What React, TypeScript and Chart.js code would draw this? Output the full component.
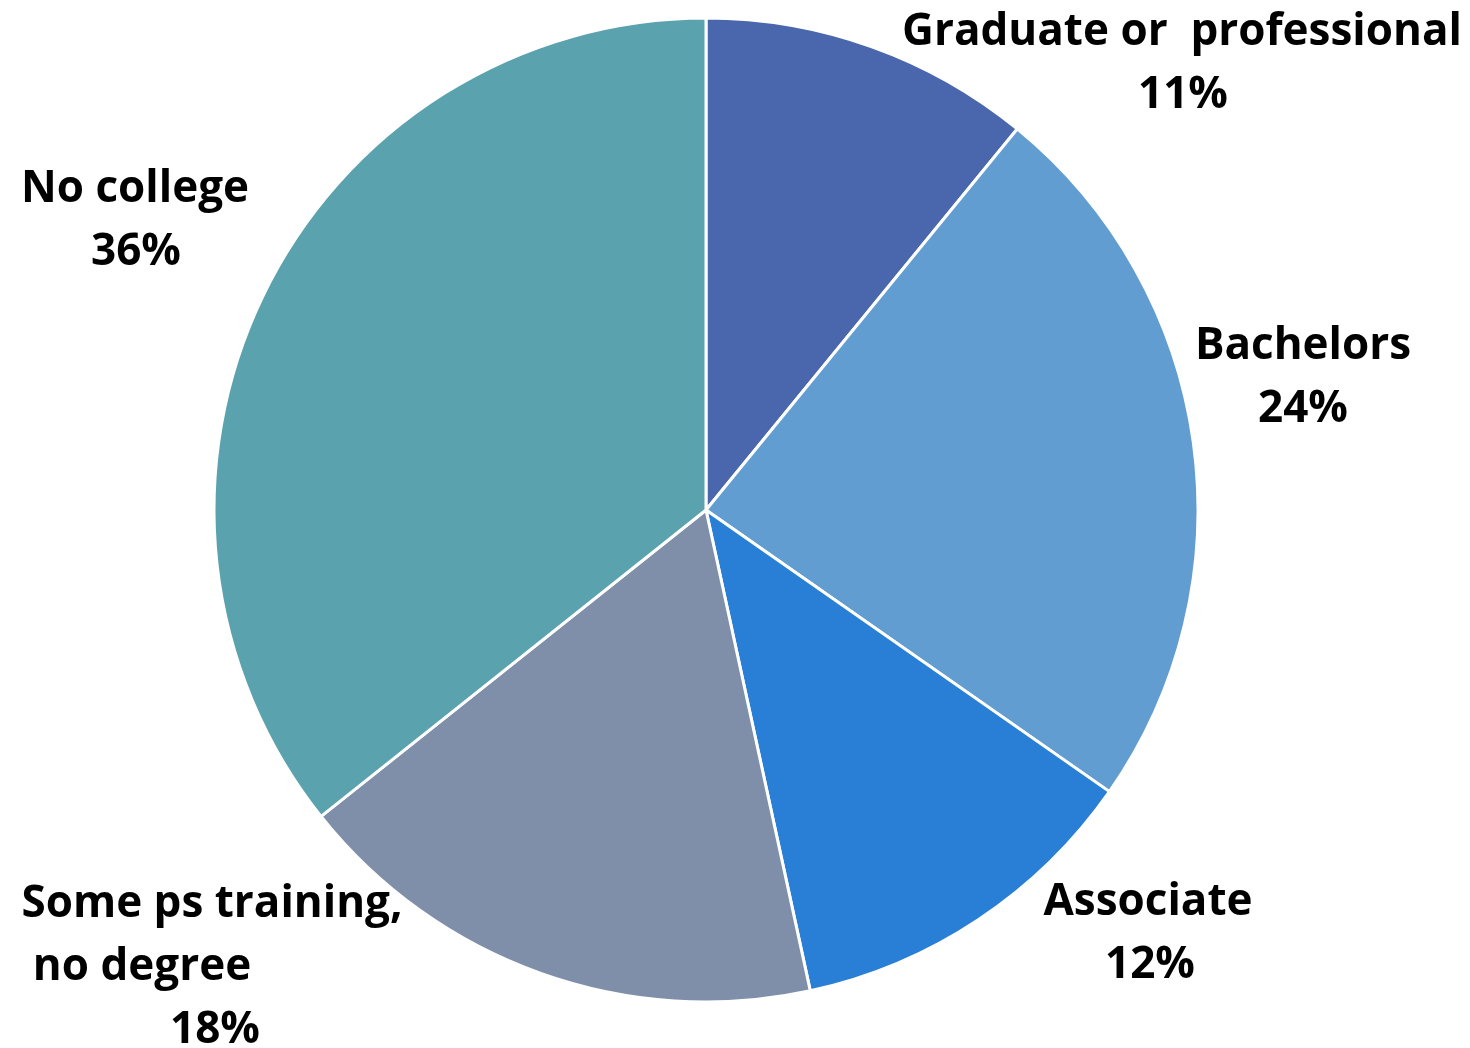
import React, { useEffect, useRef } from "react";
import { Chart, registerables } from "chart.js";

Chart.register(...registerables);

const categories = [
  "Graduate or  professional",
  "Bachelors",
  "Associate",
  "Some ps training,\nno degree",
  "No college",
];
const shares = [10.9, 23.8, 11.9, 17.7, 35.7];
const colors = ["#4A66AC", "#629DD1", "#297FD5", "#7F8FA9", "#5AA2AE"];

// label anchors relative to pie centre (px): per line x offset, first baseline offset
const labelLayout = [
  { xs: [476, 477], y: -465 },
  { xs: [597, 597], y: -151 },
  { xs: [442, 444], y: 405 },
  { xs: [-494, -564, -491], y: 407 },
  { xs: [-571, -570], y: -308 },
];

const FONT = "bold 44px 'Open Sans', Lato, sans-serif";
const LINE = 63;

const labelPlugin = {
  id: "sliceLabels",
  afterDatasetsDraw(chart: any) {
    const ctx = chart.ctx;
    const meta = chart.getDatasetMeta(0);
    const total = shares.reduce((a, b) => a + b, 0);
    ctx.save();
    ctx.font = FONT;
    ctx.fillStyle = "#000000";
    ctx.textAlign = "center";
    ctx.textBaseline = "alphabetic";
    meta.data.forEach((arc: any, i: number) => {
      const cx = arc.x;
      const cy = arc.y;
      const pct = Math.round((shares[i] / total) * 100) + "%";
      const lines = [...categories[i].split("\n"), pct];
      const lay = labelLayout[i];
      lines.forEach((t, j) => {
        ctx.fillText(t, cx + lay.xs[j], cy + lay.y + j * LINE);
      });
    });
    ctx.restore();
  },
};

export default function App() {
  const ref = useRef<HTMLCanvasElement | null>(null);
  useEffect(() => {
    document.body.style.margin = "0";
    const chart = new Chart(ref.current as HTMLCanvasElement, {
      type: "pie",
      data: {
        labels: categories,
        datasets: [
          {
            data: shares,
            backgroundColor: colors,
            borderColor: "#ffffff",
            borderWidth: 3,
          },
        ],
      },
      options: {
        animation: false,
        responsive: false,
        radius: 492,
        layout: { padding: { left: 0, right: 58, top: 0, bottom: 28 } },
        plugins: {
          legend: { display: false },
          tooltip: { enabled: false },
        },
      } as any,
      plugins: [labelPlugin],
    });
    return () => chart.destroy();
  }, []);
  return (
    <div style={{ width: 1470, height: 1048, background: "#fff" }}>
      <canvas ref={ref} width={1470} height={1048} style={{ display: "block" }} />
    </div>
  );
}
